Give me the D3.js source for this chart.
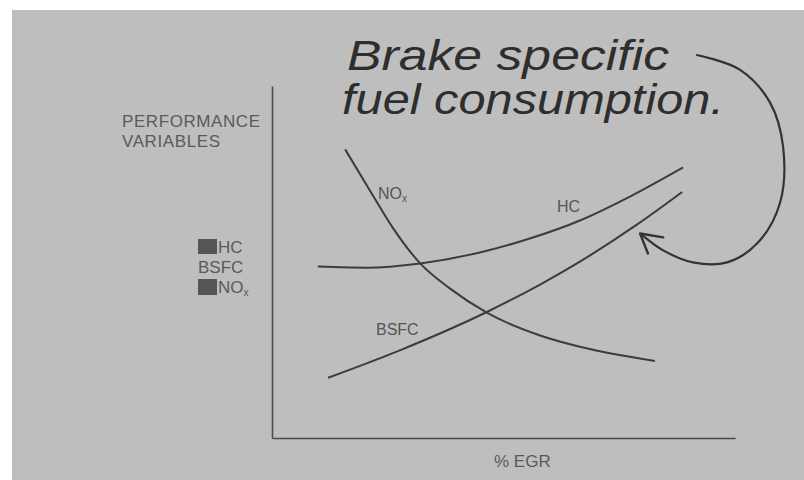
<!DOCTYPE html>
<html>
<head>
<meta charset="utf-8">
<script src="https://cdn.jsdelivr.net/npm/d3@7"></script>
<style>
  body { margin: 0; background: #fff; }
  svg { display: block; }
  text { font-family: "Liberation Sans", Arial, sans-serif; }
</style>
</head>
<body>
<div id="chart"></div>
<script>
// curves, in arbitrary units (x: % EGR, y: performance)
var noxX  = [1.58, 2.12, 2.61, 3.20, 3.84, 4.64, 5.79, 6.65, 8.27];
var noxY  = [8.20, 7.02, 5.97, 4.96, 4.25, 3.56, 2.91, 2.59, 2.19];
var hcX   = [0.99, 2.05, 3.20, 4.49, 5.60, 6.65, 7.73, 8.88];
var hcY   = [4.87, 4.84, 4.96, 5.27, 5.68, 6.18, 6.86, 7.69];
var bsfcX = [1.21, 2.76, 4.64, 5.79, 6.65, 7.88, 8.86];
var bsfcY = [1.71, 2.49, 3.58, 4.36, 5.01, 6.06, 6.99];

// hand drawn arrow pointing at BSFC
var arrowX = [9.18, 10.11, 10.76, 11.04, 10.97, 10.48, 9.83, 9.09, 8.45, 8.01];
var arrowY = [10.88, 10.46, 9.52, 8.26, 6.67, 5.53, 4.99, 4.99, 5.33, 5.75];
var headX  = [8.45, 7.95, 8.12];
var headY  = [5.70, 5.81, 5.24];

var note = ["Brake specific", "fuel consumption."];

var width = 804,
    height = 480;

var svg = d3.select("#chart")
  .append("svg")
    .attr("width", width)
    .attr("height", height);

// scanned page
svg.append("rect")
    .attr("x", 12).attr("y", 10)
    .attr("width", width - 12).attr("height", height - 10)
    .attr("fill", "#bebebe");

var x = d3.scaleLinear().domain([0, 10]).range([272, 735]);
var y = d3.scaleLinear().domain([0, 10]).range([438, 86]);

var ink = "#3c3c3c";

// axes - just the lines, no ticks
svg.append("g")
    .attr("transform", "translate(0," + y(0) + ")")
    .call(d3.axisBottom(x).tickValues([]).tickSizeOuter(0))
    .select(".domain").attr("stroke", "#4a4a4a").attr("stroke-width", 1.6);

svg.append("g")
    .attr("transform", "translate(" + x(0) + ",0)")
    .call(d3.axisLeft(y).tickValues([]).tickSizeOuter(0))
    .select(".domain").attr("stroke", "#4a4a4a").attr("stroke-width", 1.6);

function zip(xs, ys) {
  return xs.map(function(v, i) { return [v, ys[i]]; });
}

var line = d3.line()
  .x(function(d) { return x(d[0]); })
  .y(function(d) { return y(d[1]); })
  .curve(d3.curveMonotoneX);

var series = [zip(noxX, noxY), zip(hcX, hcY), zip(bsfcX, bsfcY)];

svg.selectAll(".curve")
  .data(series)
  .enter()
  .append("path")
    .attr("class", "curve")
    .attr("d", line)
    .attr("fill", "none")
    .attr("stroke", ink)
    .attr("stroke-width", 2);

// curve labels
var lab = svg.append("g").attr("fill", "#555").style("font-size", "16px");
lab.append("text").attr("x", 378).attr("y", 199).text("NO")
  .append("tspan").attr("dy", 3).style("font-size", "10px").text("x");
lab.append("text").attr("x", 557).attr("y", 212).text("HC");
lab.append("text").attr("x", 376).attr("y", 335).text("BSFC");

// y axis title and stacked legend
var yl = svg.append("g").attr("fill", "#5a5a5a").style("font-size", "17px");
yl.append("text").attr("x", 122).attr("y", 127).attr("textLength", 138).text("PERFORMANCE");
yl.append("text").attr("x", 122).attr("y", 147).attr("textLength", 98).text("VARIABLES");

yl.append("rect").attr("x", 198).attr("y", 239).attr("width", 19).attr("height", 15).attr("fill", "#555");
yl.append("text").attr("x", 218).attr("y", 253).text("HC");
yl.append("text").attr("x", 198).attr("y", 273).text("BSFC");
yl.append("rect").attr("x", 198).attr("y", 279).attr("width", 19).attr("height", 16).attr("fill", "#555");
yl.append("text").attr("x", 218).attr("y", 293).text("NO")
  .append("tspan").attr("dy", 3).style("font-size", "10px").text("x");

// x axis title
svg.append("text")
    .attr("x", 494).attr("y", 467)
    .attr("fill", "#5a5a5a")
    .style("font-size", "17px")
    .text("% EGR");

// handwritten note
var hw = svg.append("g")
    .attr("fill", "#2e2e2e")
    .style("font-family", "'DejaVu Sans ExtraLight', 'DejaVu Sans Condensed', 'DejaVu Sans', sans-serif")
    .style("font-style", "italic")
    .style("font-weight", 200)
    .style("font-size", "42px");
hw.append("text").attr("x", 347).attr("y", 70)
    .attr("textLength", 322).attr("lengthAdjust", "spacingAndGlyphs").text(note[0]);
hw.append("text").attr("x", 342).attr("y", 114)
    .attr("textLength", 382).attr("lengthAdjust", "spacingAndGlyphs").text(note[1]);

var arrowLine = d3.line()
  .x(function(d) { return x(d[0]); })
  .y(function(d) { return y(d[1]); })
  .curve(d3.curveCatmullRom.alpha(0.5));

svg.append("path")
    .attr("d", arrowLine(zip(arrowX, arrowY)))
    .attr("fill", "none")
    .attr("stroke", "#333")
    .attr("stroke-width", 2.2)
    .attr("stroke-linecap", "round");

svg.append("path")
    .attr("d", d3.line().x(function(d) { return x(d[0]); }).y(function(d) { return y(d[1]); })(zip(headX, headY)))
    .attr("fill", "none")
    .attr("stroke", "#333")
    .attr("stroke-width", 2.4)
    .attr("stroke-linecap", "round")
    .attr("stroke-linejoin", "round");
</script>
</body>
</html>
